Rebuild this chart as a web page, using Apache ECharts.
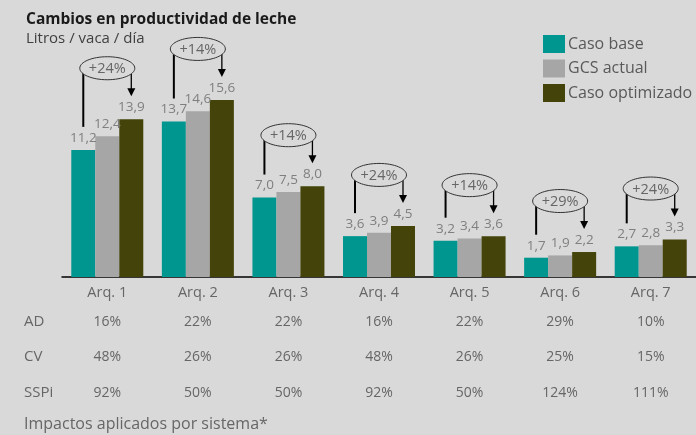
<!DOCTYPE html>
<html>
<head>
<meta charset="utf-8">
<script src="https://cdn.jsdelivr.net/npm/echarts@6/dist/echarts.min.js"></script>
<style>
  html, body { margin: 0; padding: 0; background: #d9d9d9; }
  #chart { width: 696px; height: 435px; }
</style>
</head>
<body>
<div id="chart"></div>
<script>
// datos
const categorias = ['Arq. 1', 'Arq. 2', 'Arq. 3', 'Arq. 4', 'Arq. 5', 'Arq. 6', 'Arq. 7'];
const casoBase = [11.2, 13.7, 7.0, 3.6, 3.2, 1.7, 2.7];
const gcsActual = [12.4, 14.6, 7.5, 3.9, 3.4, 1.9, 2.8];
const casoOptimizado = [13.9, 15.6, 8.0, 4.5, 3.6, 2.2, 3.3];
const cambios = ['+24%', '+14%', '+14%', '+24%', '+14%', '+29%', '+24%'];

// tabla de impactos
const filas = ['AD', 'CV', 'SSPi'];
const impactoAD = ['16%', '22%', '22%', '16%', '22%', '29%', '10%'];
const impactoCV = ['48%', '26%', '26%', '48%', '26%', '25%', '15%'];
const impactoSSPi = ['92%', '50%', '50%', '92%', '50%', '124%', '111%'];

const FUENTE = '"Open Sans", sans-serif';
const GRIS_TXT = '#666666';

const fmtNum = v => v.toFixed(1).replace('.', ',');

function ejeTabla(valores, offset) { //eje extra que sirve como fila de la tabla
    return {
        type: 'category',
        data: categorias,
        position: 'bottom',
        offset: offset,
        axisLine: { show: false },
        axisTick: { show: false },
        axisLabel: {
            margin: 8,
            fontSize: 14,
            color: GRIS_TXT,
            fontFamily: FUENTE,
            formatter: (v, i) => valores[i]
        }
    };
}

const serieBarra = (nombre, datos, color) => ({
    name: nombre,
    type: 'bar',
    data: datos,
    barWidth: 24,
    barGap: '0%',
    itemStyle: { color: color },
    label: {
        show: true,
        position: 'top',
        distance: 5,
        fontSize: 13.5,
        color: '#7f7f7f',
        fontFamily: FUENTE,
        formatter: p => fmtNum(p.value)
    }
});

const datosAnotacion = categorias.map((c, i) => [i, casoOptimizado[i], casoBase[i]]);

function dibujarAnotacion(params, api) {
    const i = api.value(0);
    const arriba = api.coord([i, api.value(1)]);
    const base = api.coord([i, api.value(2)]);
    const banda = api.size([1, 0])[0];
    const off = banda * 0.265;
    const xIzq = arriba[0] - off;
    const xDer = arriba[0] + off;
    const cy = arriba[1] - 51;
    const punta = arriba[1] - 23;
    return {
        type: 'group',
        children: [
            { type: 'line', shape: { x1: xIzq, y1: cy, x2: xIzq, y2: base[1] - 23 },
              style: { stroke: '#000', lineWidth: 2 } },
            { type: 'line', shape: { x1: xDer, y1: cy, x2: xDer, y2: punta - 6 },
              style: { stroke: '#000', lineWidth: 1.3 } },
            { type: 'polygon', shape: { points: [[xDer - 4, punta - 8], [xDer + 4, punta - 8], [xDer, punta]] },
              style: { fill: '#000' } },
            { type: 'ellipse', shape: { cx: arriba[0], cy: cy, rx: 27.5, ry: 11.5 },
              style: { fill: '#d9d9d9', stroke: '#333', lineWidth: 1 } },
            { type: 'text', style: { text: cambios[i], x: arriba[0], y: cy + 1, align: 'center', verticalAlign: 'middle',
              fontSize: 14.5, fill: GRIS_TXT, fontFamily: FUENTE } }
        ]
    };
}

const graficos = filas.map((f, k) => ({
    type: 'text',
    left: 24,
    top: [314, 349, 385][k],
    style: { text: f, fontSize: 15, fill: GRIS_TXT, fontFamily: FUENTE }
}));
graficos.push({
    type: 'text',
    left: 24,
    top: 416,
    style: { text: 'Impactos aplicados por sistema*', fontSize: 16, fill: GRIS_TXT, fontFamily: FUENTE }
});

const option = {
    backgroundColor: '#d9d9d9',
    animation: false,
    textStyle: { fontFamily: FUENTE },
    title: {
        text: 'Cambios en productividad de leche',
        subtext: 'Litros / vaca / día',
        left: 21,
        top: 7,
        itemGap: 3,
        textStyle: { fontSize: 15.5, fontWeight: 'bold', color: '#1a1a1a', fontFamily: FUENTE },
        subtextStyle: { fontSize: 15, color: '#404040', fontFamily: FUENTE }
    },
    legend: {
        orient: 'vertical',
        left: 543,
        top: 35,
        padding: 0,
        itemWidth: 22,
        itemHeight: 18,
        itemGap: 6.5,
        icon: 'rect',
        textStyle: { fontSize: 16, color: '#595959', fontFamily: FUENTE, padding: [0, 0, 0, -2] },
        data: ['Caso base', 'GCS actual', 'Caso optimizado']
    },
    grid: { left: 62, right: 0, top: 50, bottom: 158, outerBoundsMode: 'none' },
    graphic: graficos,
    xAxis: [
        {
            type: 'category',
            data: categorias,
            axisLine: { lineStyle: { color: '#000', width: 1.5 } },
            axisTick: { show: false },
            axisLabel: { margin: 8, fontSize: 14.5, color: GRIS_TXT, fontFamily: FUENTE }
        },
        ejeTabla(impactoAD, 30),
        ejeTabla(impactoCV, 65),
        ejeTabla(impactoSSPi, 101)
    ],
    yAxis: { type: 'value', min: 0, max: 20, show: false, splitLine: { show: false } },
    series: [
        serieBarra('Caso base', casoBase, '#009690'),
        serieBarra('GCS actual', gcsActual, '#a6a6a6'),
        serieBarra('Caso optimizado', casoOptimizado, '#43430a'),
        {
            type: 'custom',
            renderItem: dibujarAnotacion,
            data: datosAnotacion,
            z: 5,
            silent: true
        }
    ]
};

var myChart = echarts.init(document.getElementById('chart'));
myChart.setOption(option);
</script>
</body>
</html>
